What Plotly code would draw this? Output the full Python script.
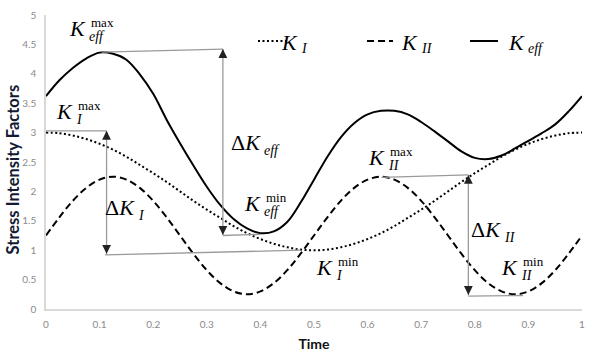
import plotly.graph_objects as go

# ---------------- data ----------------
t = [0.0, 0.025, 0.05, 0.075, 0.1, 0.125, 0.15, 0.175, 0.2, 0.225, 0.25,
     0.275, 0.3, 0.325, 0.35, 0.375, 0.4, 0.425, 0.45, 0.475, 0.5,
     0.525, 0.55, 0.575, 0.6, 0.625, 0.65, 0.675, 0.7, 0.725, 0.75,
     0.775, 0.8, 0.825, 0.85, 0.875, 0.9, 0.925, 0.95, 0.975, 1.0]

k_i = [3.00, 2.99, 2.95, 2.89, 2.81, 2.71, 2.59, 2.45, 2.31, 2.16, 2.00,
       1.84, 1.69, 1.55, 1.41, 1.29, 1.19, 1.11, 1.05, 1.01, 1.00,
       1.01, 1.05, 1.11, 1.19, 1.29, 1.41, 1.55, 1.69, 1.84, 2.00,
       2.16, 2.31, 2.45, 2.59, 2.71, 2.81, 2.89, 2.95, 2.99, 3.00]

k_ii = [1.25, 1.56, 1.84, 2.06, 2.20, 2.25, 2.20, 2.06, 1.84, 1.56, 1.25,
        0.94, 0.66, 0.44, 0.30, 0.25, 0.30, 0.44, 0.66, 0.94, 1.25,
        1.56, 1.84, 2.06, 2.20, 2.25, 2.20, 2.06, 1.84, 1.56, 1.25,
        0.94, 0.66, 0.44, 0.30, 0.25, 0.30, 0.44, 0.66, 0.94, 1.25]

k_eff = [3.62, 3.89, 4.10, 4.26, 4.36, 4.34, 4.24, 3.99, 3.66, 3.22, 2.82,
         2.44, 2.08, 1.77, 1.53, 1.37, 1.29, 1.32, 1.48, 1.81, 2.20,
         2.59, 2.92, 3.16, 3.31, 3.37, 3.37, 3.31, 3.18, 3.02, 2.85,
         2.68, 2.57, 2.55, 2.61, 2.73, 2.86, 2.99, 3.14, 3.36, 3.62]

x_ticks = [0, 0.1, 0.2, 0.3, 0.4, 0.5, 0.6, 0.7, 0.8, 0.9, 1]
x_tick_labels = ["0", "0.1", "0.2", "0.3", "0.4", "0.5", "0.6", "0.7", "0.8", "0.9", "1"]
y_ticks = [0, 0.5, 1, 1.5, 2, 2.5, 3, 3.5, 4, 4.5, 5]
y_tick_labels = ["0", "0.5", "1", "1.5", "2", "2.5", "3", "3.5", "4", "4.5", "5"]

series_subs = ["I", "II", "eff"]
series_dash = ["2px,2.5px", "7px,4px", "solid"]

# ---------------- figure ----------------
fig = go.Figure()
for ys, sub, dash in zip([k_i, k_ii, k_eff], series_subs, series_dash):
    fig.add_trace(go.Scatter(x=t, y=ys, mode="lines",
                             name="<i>K</i><sub><i>" + sub + "</i></sub>",
                             line=dict(color="black", width=2, dash=dash, shape="spline")))

GUIDE = "#9a9a9a"
guide_lines = [
    # K_eff
    ((0.104, 4.37), (0.330, 4.42)),
    ((0.330, 4.42), (0.330, 1.26)),
    ((0.330, 1.25), (0.400, 1.27)),
    # K_I
    ((0.0, 3.03), (0.113, 3.03)),
    ((0.113, 3.03), (0.113, 0.93)),
    ((0.110, 0.92), (0.475, 1.00)),
    # K_II
    ((0.626, 2.24), (0.788, 2.28)),
    ((0.788, 2.28), (0.788, 0.23)),
    ((0.788, 0.22), (0.890, 0.23)),
]
for (x0, y0), (x1, y1) in guide_lines:
    fig.add_shape(type="line", xref="x", yref="y", x0=x0, y0=y0, x1=x1, y1=y1,
                  line=dict(color=GUIDE, width=1.3), layer="above")

arrow_tips = [
    (0.330, 4.42, 9), (0.330, 1.26, -9),
    (0.113, 3.03, 9), (0.113, 0.94, -9),
    (0.788, 2.28, 9), (0.788, 0.24, -9),
]
for x, y, ay in arrow_tips:
    fig.add_annotation(x=x, y=y, xref="x", yref="y", ax=0, ay=ay, text="",
                       showarrow=True, arrowhead=2, arrowsize=1.6, arrowwidth=1.1,
                       arrowcolor="#222222", standoff=0)

SERIF = "Liberation Serif"


def label(x, y, base, sup=None, sub=None, ref="x", sub_shift=-8, size=22):
    xr, yr = (ref, "y") if ref == "x" else ("paper", "paper")
    fig.add_annotation(x=x, y=y, xref=xr, yref=yr, text=base, showarrow=False,
                       xanchor="right", yanchor="middle",
                       font=dict(family=SERIF, size=size, color="black"))
    if sup:
        fig.add_annotation(x=x, y=y, xref=xr, yref=yr, text=sup, showarrow=False,
                           xanchor="left", yanchor="middle", xshift=1, yshift=6,
                           font=dict(family=SERIF, size=13, color="black"))
    if sub:
        fig.add_annotation(x=x, y=y, xref=xr, yref=yr, text="<i>" + sub + "</i>",
                           showarrow=False, xanchor="left", yanchor="middle",
                           xshift=-1, yshift=sub_shift,
                           font=dict(family=SERIF, size=14, color="black"))


label(0.078, 4.77, "<i>K</i>", "max", "eff")
label(0.054, 3.36, "<i>K</i>", "max", "I")
label(0.405, 2.84, "Δ<i>K</i>", None, "eff")
label(0.405, 1.80, "<i>K</i>", "min", "eff")
label(0.169, 1.72, "Δ<i>K</i>", None, "I")
label(0.539, 0.71, "<i>K</i>", "min", "I")
label(0.636, 2.58, "<i>K</i>", "max", "II")
label(0.853, 1.36, "Δ<i>K</i>", None, "II")
label(0.884, 0.71, "<i>K</i>", "min", "II")

# ---------------- legend (drawn manually, paper coords) ----------------
legend_y = 0.9116
legend_items = [
    (0.3955, 0.4496, "2px,2.5px", 0.4739),
    (0.5989, 0.6474, "7px,4px", 0.6978),
    (0.7910, 0.8433, "solid", 0.8974),
]
for (x0, x1, dash, kx), sub in zip(legend_items, series_subs):
    fig.add_shape(type="line", xref="paper", yref="paper", x0=x0, x1=x1,
                  y0=legend_y, y1=legend_y, line=dict(color="black", width=2, dash=dash))
    label(kx, 0.9065, "<i>K</i>", None, sub, ref="paper", sub_shift=-6)

TICK_FONT = dict(family="Lato", size=10, color="#8a8a8a")

fig.add_annotation(x=-0.0625, y=0.473, xref="paper", yref="paper", textangle=-90,
                   text="<b>Stress Intensity Factors</b>", showarrow=False,
                   xanchor="center", yanchor="middle",
                   font=dict(family="Lato", size=16.5, color="#141a33"))

fig.update_layout(
    width=595, height=352,
    margin=dict(l=46, r=13, t=15, b=43),
    paper_bgcolor="white", plot_bgcolor="white",
    showlegend=False,
    xaxis=dict(range=[0, 1], tickvals=x_ticks, ticktext=x_tick_labels,
               showgrid=False, zeroline=False, showline=True, linecolor="#d9d9d9",
               linewidth=1.5, ticks="outside", ticklen=5, tickcolor="rgba(0,0,0,0)",
               tickfont=TICK_FONT, automargin=False,
               title=dict(text="<b>Time</b>", font=dict(family="Lato", size=14, color="#111111"),
                          standoff=11)),
    yaxis=dict(range=[0, 5], tickvals=y_ticks, ticktext=y_tick_labels,
               showgrid=False, zeroline=False, showline=True, linecolor="#d9d9d9",
               linewidth=1.5, ticks="outside", ticklen=6, tickcolor="rgba(0,0,0,0)",
               tickfont=TICK_FONT, automargin=False),
)

fig.write_html("out.html")
